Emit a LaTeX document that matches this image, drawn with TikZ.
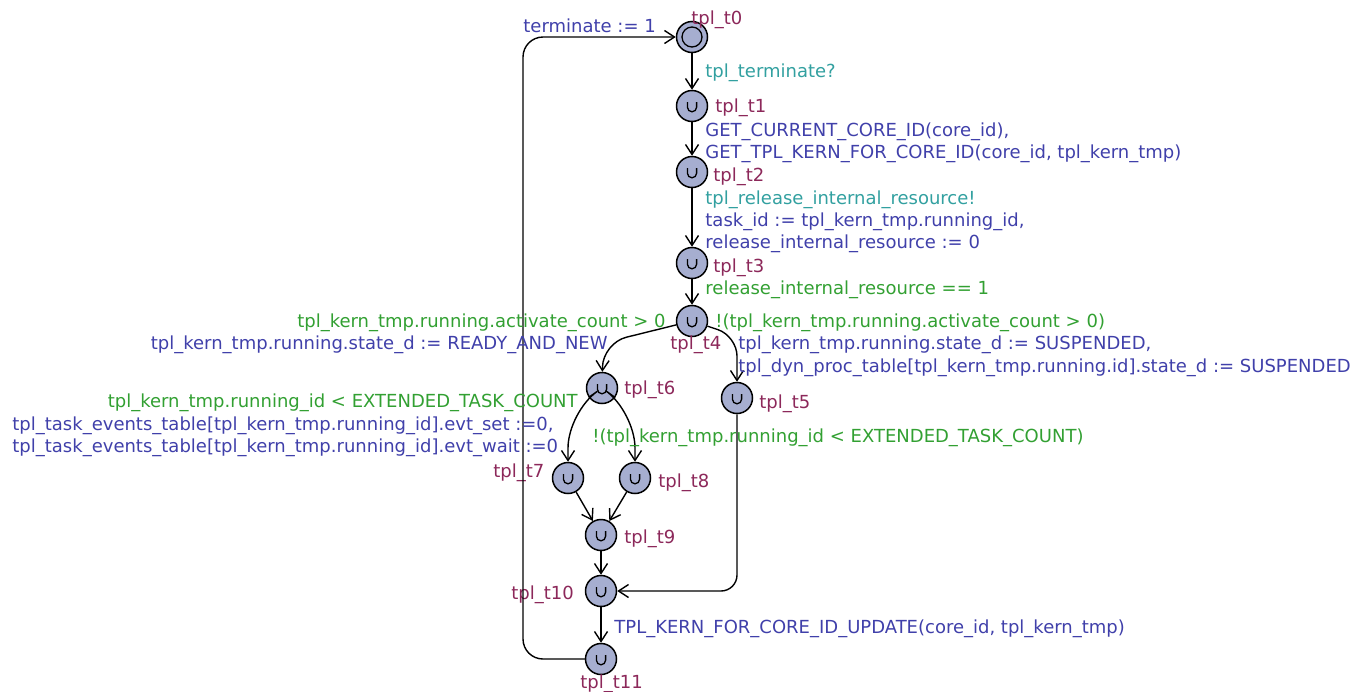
\documentclass[tikz,border=0pt]{standalone}
\usepackage{fontspec}
\setmainfont{DejaVu Sans}
\usetikzlibrary{arrows.meta}

\definecolor{locname}{RGB}{140,40,90}
\definecolor{assign}{RGB}{64,64,170}
\definecolor{sync}{RGB}{50,160,160}
\definecolor{guard}{RGB}{50,160,50}
\definecolor{locfill}{RGB}{166,174,208}

\tikzset{
  loc/.style={circle, draw, fill=locfill, minimum size=15.5pt, inner sep=0pt, line width=0.75pt},
  committed/.style={loc, path picture={
      \draw[line width=0.65pt] ([xshift=-2.3pt,yshift=2pt]path picture bounding box.center)
        -- ++(0,-2.6pt) arc[start angle=180, end angle=360, radius=2.3pt] -- ++(0,2.6pt);}},
  initial/.style={loc, path picture={
      \draw[line width=0.65pt] (path picture bounding box.center) circle (5pt);}},
  edge/.style={draw, line width=0.7pt, -{Straight Barb[length=5pt,width=6.5pt]}},
  lname/.style={text=locname, anchor=base west, inner sep=0pt},
  lbl/.style={anchor=base west, inner sep=0pt},
}

\begin{document}
\begin{tikzpicture}[x=0.5pt, y=-0.5pt, font=\fontsize{9pt}{10pt}\selectfont]
  \useasboundingbox (0,0) rectangle (1364,691);

  % locations
  \node[initial]   (t0)  at (692,37)  {};
  \node[committed] (t1)  at (692,106) {};
  \node[committed] (t2)  at (692,172) {};
  \node[committed] (t3)  at (692,263) {};
  \node[committed] (t4)  at (692,321) {};
  \node[committed] (t6)  at (602,388) {};
  \node[committed] (t5)  at (737,398) {};
  \node[committed] (t7)  at (568,478) {};
  \node[committed] (t8)  at (635,478) {};
  \node[committed] (t9)  at (601,535) {};
  \node[committed] (t10) at (601,591) {};
  \node[committed] (t11) at (601,659) {};

  % location names
  \node[lname] (n0)  at (691,24)  {tpl\_t0};
  \node[lname] (n1)  at (715,112) {tpl\_t1};
  \node[lname] (n2)  at (713,181) {tpl\_t2};
  \node[lname] (n3)  at (713,272) {tpl\_t3};
  \node[lname] (n4)  at (670,349) {tpl\_t4};
  \node[lname] (n6)  at (624,394) {tpl\_t6};
  \node[lname] (n5)  at (759,408) {tpl\_t5};
  \node[lname] (n7)  at (493,477) {tpl\_t7};
  \node[lname] (n8)  at (658,487) {tpl\_t8};
  \node[lname] (n9)  at (624,543) {tpl\_t9};
  \node[lname] (n10) at (511,599) {tpl\_t10};
  \node[lname] (n11) at (580,688) {tpl\_t11};

  % edges
  \draw[edge] (t0) -- (t1);
  \draw[edge] (t1) -- (t2);
  \draw[edge] (t2) -- (t3);
  \draw[edge] (t3) -- (t4);
  \draw[edge, rounded corners=12] (t4) -- (603,343) -- (t6);
  \draw[edge, rounded corners=10] (t4) -- (737,336) -- (t5);
  \draw[edge, rounded corners=18] (t6) -- (568,412) -- (t7);
  \draw[edge, rounded corners=18] (t6) -- (635,412) -- (t8);
  \draw[edge] (t7) -- (t9);
  \draw[edge] (t8) -- (t9);
  \draw[edge] (t9) -- (t10);
  \draw[edge, rounded corners=8] (t5) -- (737,591) -- (t10);
  \draw[edge] (t10) -- (t11);
  \draw[edge, rounded corners=10] (t11) -- (523,659) -- (523,37) -- (t0);

  % edge labels
  \node[lbl, text=assign] (a0) at (523,32) {terminate := 1};
  \node[lbl, text=sync]   (s0) at (705,77) {tpl\_terminate?};
  \node[lbl, text=assign] (a1) at (705,136) {GET\_CURRENT\_CORE\_ID(core\_id),};
  \node[lbl, text=assign] (a2) at (705,158) {GET\_TPL\_KERN\_FOR\_CORE\_ID(core\_id, tpl\_kern\_tmp)};
  \node[lbl, text=sync]   (s1) at (705,204) {tpl\_release\_internal\_resource!};
  \node[lbl, text=assign] (a3) at (705,226) {task\_id := tpl\_kern\_tmp.running\_id,};
  \node[lbl, text=assign] (a4) at (705,248) {release\_internal\_resource := 0};
  \node[lbl, text=guard]  (g0) at (705,294) {release\_internal\_resource == 1};
  \node[lbl, text=guard, anchor=base east] (g1) at (666,327) {tpl\_kern\_tmp.running.activate\_count > 0};
  \node[lbl, text=guard]  (g2) at (715,327) {!(tpl\_kern\_tmp.running.activate\_count > 0)};
  \node[lbl, text=assign, anchor=base east] (a5) at (608,349) {tpl\_kern\_tmp.running.state\_d := READY\_AND\_NEW};
  \node[lbl, text=assign] (a6) at (738,349) {tpl\_kern\_tmp.running.state\_d := SUSPENDED,};
  \node[lbl, text=assign] (a7) at (738,372) {tpl\_dyn\_proc\_table[tpl\_kern\_tmp.running.id].state\_d := SUSPENDED};
  \node[lbl, text=guard, anchor=base east] (g3) at (578,407) {tpl\_kern\_tmp.running\_id < EXTENDED\_TASK\_COUNT};
  \node[lbl, text=assign] (a8) at (12,430) {tpl\_task\_events\_table[tpl\_kern\_tmp.running\_id].evt\_set :=0,};
  \node[lbl, text=assign] (a9) at (12,452) {tpl\_task\_events\_table[tpl\_kern\_tmp.running\_id].evt\_wait :=0};
  \node[lbl, text=guard]  (g4) at (592,442) {!(tpl\_kern\_tmp.running\_id < EXTENDED\_TASK\_COUNT)};
  \node[lbl, text=assign] (a10) at (614,633) {TPL\_KERN\_FOR\_CORE\_ID\_UPDATE(core\_id, tpl\_kern\_tmp)};
\end{tikzpicture}
\end{document}
